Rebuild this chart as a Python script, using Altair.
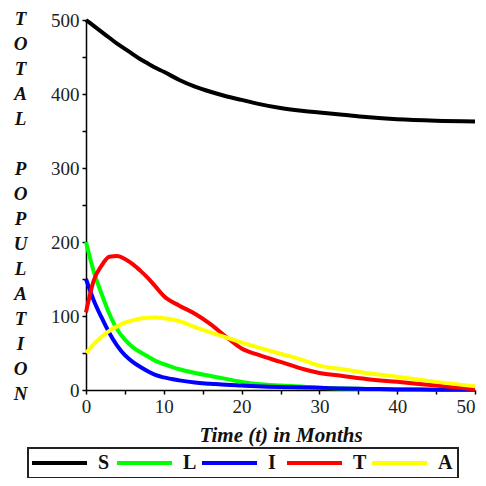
import altair as alt
import pandas as pd

# time grid (months)
t = [0, 1, 2, 3, 4, 5, 6, 7, 8, 9, 10, 12, 14, 16, 18, 20, 22, 25, 28, 30, 33, 36, 40, 45, 50]

S = [500, 492, 484, 476, 468, 461, 454, 447, 441, 435, 430, 419, 410, 403, 397, 392, 387, 381, 377, 375, 372, 369, 366, 364, 363]
L = [200, 160, 130, 103, 82, 68, 58, 51, 45, 39, 35, 28, 23, 19, 15, 11, 8, 6, 4.5, 3, 2, 1.5, 1, 0.5, 0.3]
I = [150, 121, 98, 77, 60, 47, 38, 31, 25, 20, 17, 13, 10, 8.5, 7, 6, 5, 4, 3.5, 3, 2, 1.5, 0.8, 0.4, 0.2]
T = [105, 148, 168, 180, 181, 177, 170, 161, 151, 139, 127, 114, 103, 89, 72, 56, 48, 38, 28, 23, 19, 15, 11, 6, 1]
A = [50, 62, 72, 80, 86, 91, 94, 96.5, 97.5, 98, 97, 93, 85, 78, 71, 64, 58, 49, 40, 33, 28, 23, 18, 11, 5]

series = ["S", "L", "I", "T", "A"]
colors = ["#000000", "#00ff00", "#0000ff", "#ff0000", "#ffff00"]

rows = []
for k, (name, vals) in enumerate(zip(series, [S, L, I, T, A])):
    for tt, v in zip(t, vals):
        rows.append({"t": tt, "value": v, "series": name, "k": k})
df = pd.DataFrame(rows)

FONT = "Liberation Serif"
ytitle = list("TOTAL") + ["\u200b"] + list("POPULATION")

chart = alt.Chart(df).mark_line(strokeWidth=4, interpolate="monotone").encode(
    x=alt.X(
        "t:Q",
        scale=alt.Scale(domain=[0, 50], nice=False, zero=False),
        axis=alt.Axis(
            values=list(range(0, 51, 5)),
            labelExpr="datum.value % 10 == 0 ? datum.label : ''",
            labelFlush=False,
            labelAlign={"condition": {"test": "datum.value == 50", "value": "right"}, "value": "center"},
            title="Time (t) in Months",
            titleFont=FONT, titleFontSize=21, titleFontStyle="italic", titleFontWeight="bold",
            titleColor="#111", titleBaseline="top", titleY=34,
            labelPadding=3,
        ),
    ),
    y=alt.Y(
        "value:Q",
        scale=alt.Scale(domain=[0, 500], nice=False),
        axis=alt.Axis(
            values=list(range(0, 501, 50)),
            labelExpr="datum.value % 100 == 0 ? datum.label : ''",
            labelFlush=False,
            title=ytitle,
            titleAngle=0, titleAlign="center", titleBaseline="top",
            titleX=-66, titleY=-11, titleLineHeight=25,
            titleFont=FONT, titleFontSize=19, titleFontStyle="italic", titleFontWeight="bold",
            titleColor="#111",
            labelPadding=3,
        ),
    ),
    color=alt.Color(
        "series:N",
        scale=alt.Scale(domain=series, range=colors),
        legend=alt.Legend(
            title=None, orient="none", legendX=-58, legendY=428,
            direction="horizontal", symbolType="M-2,0H8", symbolSize=121,
            symbolStrokeWidth=4, labelFont=FONT, labelFontSize=20, labelFontWeight="bold",
            labelColor="#111", labelOffset=45, columnPadding=-4, gridAlign="all",
            strokeColor="#222", padding=5,
        ),
    ),
    detail="k:O",
).properties(
    width=389, height=370,
    padding={"left": 78, "top": 12, "right": 3, "bottom": 88},
    autosize=alt.AutoSizeParams(type="none"),
).configure_view(stroke=None).configure_axis(
    grid=False, domainColor="black", domainWidth=1.5, tickColor="black", tickWidth=1.5,
    tickSize=4, labelFont=FONT, labelFontSize=19, labelColor="#222",
).configure_legend(strokeWidth=2)

chart.save("out.html", embed_options={"renderer": "svg", "actions": False})
